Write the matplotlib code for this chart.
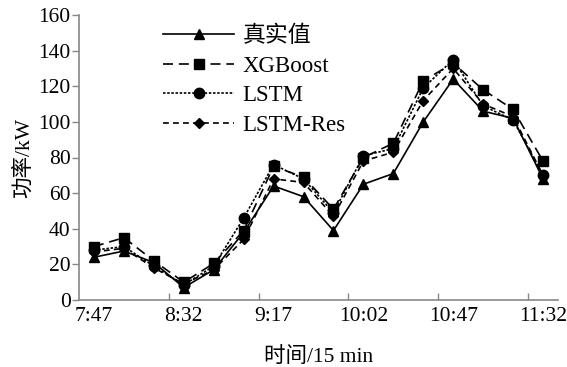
import matplotlib
matplotlib.use("Agg")
import matplotlib.pyplot as plt
from matplotlib.ticker import FixedLocator

plt.rcParams['font.family'] = ['Liberation Serif', 'Noto Sans CJK SC']

times = ["7:47", "8:02", "8:17", "8:32", "8:47", "9:02", "9:17", "9:32",
         "9:47", "10:02", "10:17", "10:32", "10:47", "11:02", "11:17", "11:32"]
true_vals = [24, 27.5, 21, 7, 17, 38, 64, 58, 39, 65, 71, 100, 124, 106, 102, 68]
xgb_vals = [30, 35, 22, 10, 20.5, 39, 75, 69, 51, 80, 88, 123, 133, 118, 107, 78]
lstm_vals = [28, 30, 19, 8.5, 19, 46, 76, 68, 49, 81, 85, 119, 135, 109, 101, 70]
lstmres_vals = [27, 29, 18, 9, 17, 34, 68, 66, 47, 78, 83, 112, 130, 110, 103, 70]
series_names = ["真实值", "XGBoost", "LSTM", "LSTM-Res"]
yticks = [0, 20, 40, 60, 80, 100, 120, 140, 160]
label_idx = [0, 3, 6, 9, 12, 15]

fig = plt.figure(figsize=(5.67, 3.67), dpi=100)
ax = fig.add_axes([79/567, 1-300/367, 479/567, 285/367])

x = list(range(len(times)))
ax.plot(x, xgb_vals, color='black', lw=1.2, linestyle=(0, (6, 3.5)),
        marker='s', markersize=7, label=series_names[1], zorder=3)
ax.plot(x, lstm_vals, color='black', lw=1.2, linestyle=(0, (1.5, 1)),
        marker='o', markersize=7.5, label=series_names[2], zorder=3)
ax.plot(x, lstmres_vals, color='black', lw=1.2, linestyle=(0, (3.5, 2.5)),
        marker='D', markersize=5, label=series_names[3], zorder=3)
ax.plot(x, true_vals, color='black', lw=1.2, linestyle='-',
        marker='^', markersize=7.5, label=series_names[0], zorder=4)

ax.set_xlim(-0.5, len(times) - 0.5)
ax.set_ylim(0, 160)

ax.set_xticks(label_idx)
ax.set_xticklabels([times[i] for i in label_idx], fontsize=15.5)
ax.tick_params(axis='x', which='major', length=0, pad=5)
ax.xaxis.set_minor_locator(FixedLocator([2.5, 5.5, 8.5, 11.5, 14.5]))
ax.tick_params(axis='x', which='minor', length=5, direction='in', color='#888888', width=1)

ax.set_yticks(yticks)
ax.set_yticklabels([str(v) for v in yticks], fontsize=15.5)
ax.tick_params(axis='y', length=5, direction='out', color='#888888', width=1, pad=1)

for s in ['top', 'right']:
    ax.spines[s].set_visible(False)
for s in ['left', 'bottom']:
    ax.spines[s].set_color('#888888')
    ax.spines[s].set_linewidth(1.2)

ax.set_xlabel("时间/15 min", fontsize=15.5, labelpad=15)
ax.set_ylabel("功率/kW", fontsize=15.5, labelpad=3)

h, l = ax.get_legend_handles_labels()
order = [3, 0, 1, 2]
leg = ax.legend([h[i] for i in order], [l[i] for i in order], loc='upper left',
                bbox_to_anchor=(0.157, 0.995), frameon=False, fontsize=16.5,
                handlelength=3.1, handletextpad=0.35, labelspacing=0.38,
                borderaxespad=0)

fig.savefig("out.png", dpi=100)
